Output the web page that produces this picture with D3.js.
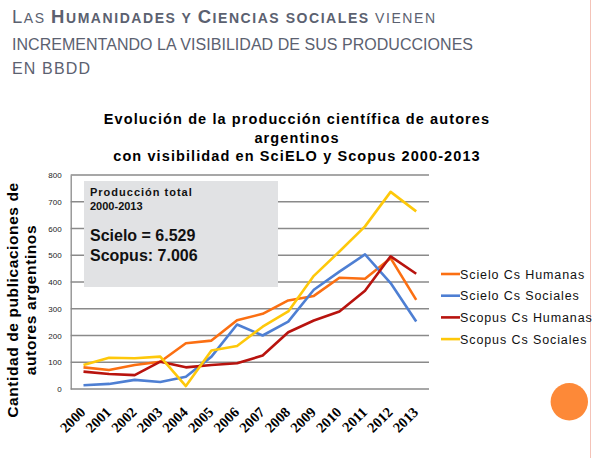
<!DOCTYPE html>
<html><head><meta charset="utf-8">
<script src="https://cdn.jsdelivr.net/npm/d3@7"></script>
<style>body{margin:0;background:#fff}svg{display:block}</style>
</head><body>
<script>
const years = ["2000","2001","2002","2003","2004","2005","2006","2007","2008","2009","2010","2011","2012","2013"];
const scieloHumanas = [81,71,90,102,171,181,257,281,331,348,416,412,489,333];
const scieloSociales = [14,19,34,26,46,121,241,200,252,371,439,503,396,252];
const scopusHumanas = [65,56,52,102,81,90,96,125,212,256,290,367,496,431];
const scopusSociales = [90,117,115,121,11,144,161,233,290,423,514,608,737,664];
const seriesNames = ["Scielo Cs Humanas","Scielo Cs Sociales","Scopus Cs Humanas","Scopus Cs Sociales"];
const seriesColors = ["#fb6f12","#4e7fd3","#b8130e","#fec80a"];
const yTicks = [0,100,200,300,400,500,600,700,800];

const W=592,H=458;
const svg=d3.select("body").append("svg").attr("width",W).attr("height",H);

// right edge line
svg.append("line").attr("x1",590.5).attr("x2",590.5).attr("y1",0).attr("y2",H).attr("stroke","#f4c3b8").attr("stroke-width",1);

// header
const hc="#5b6170";
const hdr=svg.append("g").attr("fill",hc).attr("font-family","Liberation Sans, Arial, sans-serif");
const l1=hdr.append("text").attr("x",12).attr("y",23.3).attr("textLength",423).attr("lengthAdjust","spacing");
[["L",18.5,400],["AS ",14,400],["H",18.5,700],["UMANIDADES Y ",14,700],["C",18.5,700],["IENCIAS SOCIALES",14,700],[" VIENEN",14,400]]
 .forEach(([t,s,w])=>l1.append("tspan").attr("font-size",s).attr("font-weight",w).text(t));
hdr.append("text").attr("x",12).attr("y",50).attr("font-size",16).attr("textLength",461).attr("lengthAdjust","spacing").text("INCREMENTANDO LA VISIBILIDAD DE SUS PRODUCCIONES");
hdr.append("text").attr("x",12).attr("y",74).attr("font-size",16).attr("textLength",78).attr("lengthAdjust","spacing").text("EN BBDD");

// title
const tl=["Evolución de la producción científica de autores","argentinos","con visibilidad en SciELO y Scopus 2000-2013"];
svg.append("g").selectAll("text").data(tl).join("text")
 .attr("x",297).attr("y",(d,i)=>124+i*18.5).attr("text-anchor","middle")
 .attr("font-family","Liberation Sans, Arial, sans-serif").attr("font-weight",700).attr("font-size",14.5)
 .attr("letter-spacing",1.1).attr("fill","#000").text(d=>d);

// scales
const x=d3.scaleBand().domain(years).range([70.7,429]);
const y=d3.scaleLinear().domain([0,800]).range([389,175]);
const cx=d=>x(d)+x.bandwidth()/2;

// grid
svg.append("g").selectAll("line").data(yTicks).join("line")
 .attr("x1",70.7).attr("x2",429).attr("y1",d=>y(d)).attr("y2",d=>y(d))
 .attr("stroke","#8a8a8a").attr("stroke-width",1.3);
// y axis
const ya=svg.append("g").attr("transform","translate(70.7,0)").call(d3.axisLeft(y).tickValues(yTicks).tickSize(0).tickPadding(9));
ya.select(".domain").attr("stroke","#8a8a8a").attr("stroke-width",1.3);
ya.selectAll("text").attr("font-family","Liberation Sans, Arial, sans-serif").attr("font-size",8).attr("fill","#222");

// x axis labels
const xa=svg.append("g").attr("transform","translate(0,389)").call(d3.axisBottom(x).tickSize(0));
xa.select(".domain").remove();
xa.selectAll("text").attr("font-family","Liberation Serif, Times New Roman, serif").attr("font-weight",700)
 .attr("font-size",14.5).attr("fill","#000").attr("text-anchor","end").attr("dy",null).attr("y",0)
 .attr("transform","translate(3,24) rotate(-45)");

// text box
svg.append("rect").attr("x",84).attr("y",181).attr("width",194).attr("height",106).attr("fill","#e1e2e4");
const bt=svg.append("g").attr("font-family","Liberation Sans, Arial, sans-serif").attr("font-weight",700).attr("fill","#111");
bt.append("text").attr("x",90).attr("y",196).attr("font-size",11).attr("letter-spacing",1.0).text("Producción total");
bt.append("text").attr("x",90).attr("y",210).attr("font-size",11).text("2000-2013");
bt.append("text").attr("x",90).attr("y",241).attr("font-size",16).text("Scielo = 6.529");
bt.append("text").attr("x",90).attr("y",261).attr("font-size",16).text("Scopus: 7.006");

// lines
const data=[scieloHumanas,scieloSociales,scopusHumanas,scopusSociales];
const line=d3.line().x((d,i)=>cx(years[i])).y(d=>y(d));
svg.append("g").selectAll("path").data(data).join("path")
 .attr("d",line).attr("fill","none").attr("stroke",(d,i)=>seriesColors[i]).attr("stroke-width",2.6).attr("stroke-linejoin","round");

// legend
const lg=svg.append("g").selectAll("g").data(seriesNames).join("g")
 .attr("transform",(d,i)=>`translate(441,${274+i*21.7})`);
lg.append("line").attr("x1",0).attr("x2",19).attr("stroke",(d,i)=>seriesColors[i]).attr("stroke-width",2.6);
lg.append("text").attr("x",19).attr("y",4.5).attr("font-family","Liberation Sans, Arial, sans-serif").attr("font-size",12.5)
 .attr("letter-spacing",0.9).attr("fill","#111").text(d=>d);

// y title
const yt=svg.append("g").attr("font-family","Liberation Sans, Arial, sans-serif").attr("font-weight",700).attr("font-size",15.5).attr("fill","#000").attr("letter-spacing",0.6);
yt.append("text").attr("transform","translate(18,300) rotate(-90)").attr("text-anchor","middle").text("Cantidad de publicaciones de");
yt.append("text").attr("transform","translate(36,300) rotate(-90)").attr("text-anchor","middle").text("autores argentinos");

// circle
svg.append("circle").attr("cx",569.3).attr("cy",401.7).attr("r",18.7).attr("fill","#fd8938");
</script>
</body></html>
